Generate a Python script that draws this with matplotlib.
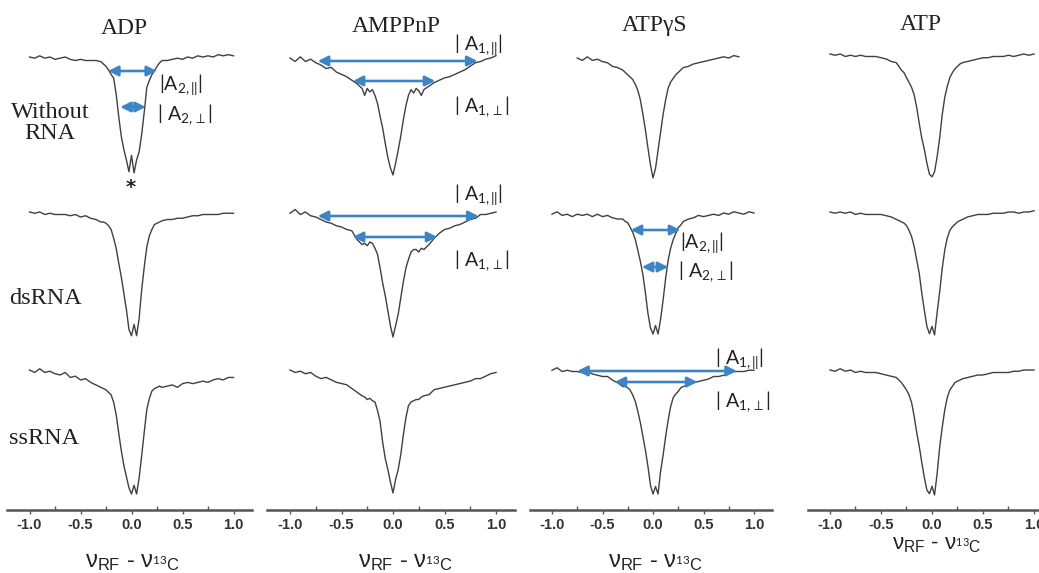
import matplotlib.pyplot as plt
import numpy as np

nan = float("nan")

# frequency offset grid (MHz), shared by all spectra
shift = [-1.0, -0.95, -0.9, -0.85, -0.8, -0.75, -0.7, -0.65, -0.6, -0.55, -0.5, -0.45, -0.4, -0.35,
         -0.3, -0.275, -0.25, -0.225, -0.2, -0.175, -0.15, -0.125, -0.1, -0.075, -0.05, -0.025, 0.0,
         0.025, 0.05, 0.075, 0.1, 0.125, 0.15, 0.175, 0.2, 0.225, 0.25, 0.275, 0.3,
         0.35, 0.4, 0.45, 0.5, 0.55, 0.6, 0.65, 0.7, 0.75, 0.8, 0.85, 0.9, 0.95, 1.0]

# relative ENDOR intensity (%)
adp_free = [100, 99, 101, 99, 100, 98, 99, 100, 98, 97, 98, 97, 97, 97,
            96, 94, 92, 89, 85, 82, 68, 49, 32, 21, 12, 2, 16, 1, 12, 19, 34, 53, 74, 80, 85, 88, 92, 95, 97,
            97, 98, 99, 98, 100, 99, 101, 100, 101, 100, 102, 101, 102, 101]
adp_ds = [100, 99, 100, 98, 99, 98, 98, 98, 97, 98, 96, 97, 95, 94,
          92, 92, 91, 89, 86, 79, 71, 59, 48, 35, 22, 6, 1, 10, 1, 15, 38, 56, 72, 81, 86, 90, 91, 92, 93,
          94, 94, 95, 95, 96, 97, 97, 98, 98, 98, 98, 99, 99, 99]
adp_ss = [100, 98, 101, 98, 99, 97, 96, 98, 94, 95, 92, 93, 90, 88,
          86, 85, 84, 82, 80, 74, 64, 49, 35, 23, 14, 5, 0, 7, 0, 13, 31, 50, 68, 77, 83, 85, 86, 87, 86,
          87, 88, 86, 89, 90, 89, 90, 91, 90, 92, 93, 92, 94, 94]

amppnp_free = [100, 97, 101, 97, 99, 96, 94, 91, 92, 88, 86, 84, 81, 78,
               74, 68, 74, 71, 73, 68, 61, 50, 40, 27, 15, 6, 0, 10, 21, 33, 47, 59, 68, 73, 70, 74, 72, 68, 73,
               76, 79, 81, 83, 84, 86, 88, 90, 93, 96, 97, 99, 100, 102]
amppnp_ds = [99, 102, 98, 100, 97, 96, 94, 92, 91, 89, 88, 86, 85, 78,
             74, 75, 73, 76, 75, 71, 66, 55, 43, 33, 21, 9, 0, 9, 18, 31, 44, 55, 62, 68, 70, 70, 68, 71, 70,
             74, 79, 83, 86, 87, 89, 90, 92, 94, 95, 98, 98, 99, 100]
amppnp_ss = [100, 98, 99, 97, 98, 95, 93, 94, 92, 90, 89, 88, 85, 82,
             79, 78, 76, 77, 75, 74, 67, 58, 41, 28, 19, 9, 0, 11, 19, 31, 47, 61, 71, 74, 75, 76, 76, 78, 79,
             80, 84, 85, 86, 87, 88, 89, 90, 91, 93, 93, 95, 97, 98]

atpgs_free = [nan, nan, nan, nan, nan, 100, 98, 101, 98, 99, 97, 96, 93, 92,
              90, 88, 86, 84, 82, 78, 73, 65, 53, 40, 25, 11, 0, 8, 23, 38, 53, 65, 75, 80, 83, 86, 88, 90, 92,
              93, 95, 96, 97, 98, 99, 100, 101, 100, 102, 101, nan, nan, nan]
atpgs_ds = [99, 101, 98, 99, 97, 99, 98, 99, 97, 99, 97, 98, 96, 95,
            95, 93, 92, 88, 84, 78, 69, 60, 49, 34, 17, 5, 0, 7, 0, 12, 28, 46, 61, 71, 78, 83, 88, 90, 93,
            95, 96, 98, 97, 98, 99, 98, 100, 99, 101, 100, 99, 101, 100]
atpgs_ss = [99, 101, 98, 99, 98, 98, 97, 98, 96, 95, 94, 94, 91, 89,
            86, 86, 85, 83, 79, 74, 66, 57, 46, 35, 22, 7, 0, 6, 0, 18, 31, 46, 59, 70, 77, 80, 82, 85, 86,
            87, 89, 90, 91, 92, 94, 94, 95, 97, 98, 98, 98, 99, 99]

atp_free = [100, 99, 100, 98, 99, 98, 99, 98, 98, 98, 97, 96, 94, 93,
            87, 85, 81, 77, 73, 67, 57, 44, 32, 23, 12, 3, 1, 5, 17, 32, 51, 65, 74, 81, 85, 88, 90, 92, 93,
            94, 95, 96, 97, 97, 98, 98, 98, 99, 98, 99, 100, 99, 100]
atp_ds = [100, 99, 100, 99, 100, 98, 99, 98, 98, 98, 98, 97, 96, 94,
          92, 91, 89, 85, 80, 72, 61, 50, 34, 20, 7, 1, 7, 0, 18, 35, 54, 69, 79, 85, 88, 90, 92, 93, 94,
          96, 97, 98, 98, 98, 99, 99, 99, 100, 100, 99, 100, 100, 101]
atp_ss = [100, 99, 101, 99, 100, 98, 99, 98, 98, 98, 97, 96, 95, 94,
          90, 87, 84, 80, 74, 63, 50, 39, 26, 14, 4, 1, 7, 0, 17, 38, 54, 68, 78, 84, 87, 90, 91, 92, 93,
          94, 95, 96, 96, 97, 98, 98, 98, 98, 99, 99, 100, 100, 100]

nucleotides = ["ADP", "AMPPnP", "ATP\u03b3S", "ATP"]
conditions = ["Without\nRNA", "dsRNA", "ssRNA"]
spectra = [[adp_free, adp_ds, adp_ss],
           [amppnp_free, amppnp_ds, amppnp_ss],
           [atpgs_free, atpgs_ds, atpgs_ss],
           [atp_free, atp_ds, atp_ss]]
ticks = [-1.0, -0.5, 0.0, 0.5, 1.0]

# hyperfine splittings marked with arrows: (column, row, label, x_left, x_right)
couplings = [(0, 0, "par2", -0.23, 0.25), (0, 0, "perp2", -0.11, 0.14),
             (1, 0, "par1", -0.73, 0.82), (1, 0, "perp1", -0.39, 0.41),
             (1, 1, "par1", -0.73, 0.83), (1, 1, "perp1", -0.39, 0.43),
             (2, 1, "par2", -0.22, 0.27), (2, 1, "perp2", -0.11, 0.15),
             (2, 2, "par1", -0.75, 0.83), (2, 2, "perp1", -0.38, 0.44)]

# ---- layout (pixels of the 1039x573 picture) ----
W, H = 1039, 573
axis_y = 510
zero_px = [131.5, 393, 653, 932]
px_per_unit = [102, 103, 101, 102]
xlo, xhi = -1.22, 1.18
trace_top = [[57, 212, 370], [58, 212, 370], [58, 213, 369], [54, 212, 370]]
trace_bot = [[174, 337, 494], [175, 337, 493], [178, 334, 494], [178, 335, 495]]
arrow_y = {(0, 0, "par2"): 71, (0, 0, "perp2"): 107,
           (1, 0, "par1"): 61, (1, 0, "perp1"): 81,
           (1, 1, "par1"): 216, (1, 1, "perp1"): 237,
           (2, 1, "par2"): 230, (2, 1, "perp2"): 267,
           (2, 2, "par1"): 371, (2, 2, "perp1"): 382}
label_pos = {(0, 0, "par2"): (159, 85), (0, 0, "perp2"): (157, 115),
             (1, 0, "par1"): (454, 45), (1, 0, "perp1"): (454, 107),
             (1, 1, "par1"): (454, 195), (1, 1, "perp1"): (454, 261),
             (2, 1, "par2"): (680, 243), (2, 1, "perp2"): (678, 272),
             (2, 2, "par1"): (715, 359), (2, 2, "perp1"): (715, 402)}
label_text = {"par2": r"$|\mathrm{A}_{2,||}|$", "perp2": r"$|\ \mathrm{A}_{2,\bot}|$",
              "par1": r"$|\ \mathrm{A}_{1,||}|$", "perp1": r"$|\ \mathrm{A}_{1,\bot}|$"}
title_pos = [(124, 28), (396, 26), (655, 26), (921, 25)]
row_pos = [(50, 123), (46, 298), (44, 438)]
xlabel_pos = [(132, 567), (405, 567), (655, 567), (937, 550)]
xlabel_size = [17, 17, 17, 16]

plt.rcParams["mathtext.fontset"] = "custom"
plt.rcParams["mathtext.rm"] = "Lato"
plt.rcParams["mathtext.it"] = "Lato:italic"
plt.rcParams["mathtext.bf"] = "Lato:bold"
plt.rcParams["mathtext.sf"] = "Liberation Sans"
plt.rcParams["mathtext.fallback"] = "stixsans"

blue = "#3d84c6"
ink = "#404040"


def fx(px):
    return px / W


def fy(py):
    return 1 - py / H


fig = plt.figure(figsize=(W / 100, H / 100), dpi=100)

for c in range(4):
    s = px_per_unit[c]
    left = zero_px[c] + xlo * s
    ax = fig.add_axes([fx(left), fy(axis_y), (xhi - xlo) * s / W, axis_y / H])
    ax.patch.set_visible(False)
    ax.set_xlim(xlo, xhi)
    ax.set_ylim(0, axis_y)
    for r in range(3):
        top, bot = trace_top[c][r], trace_bot[c][r]
        v = np.array(spectra[c][r], dtype=float)
        y = axis_y - (bot - v / 100 * (bot - top))
        ax.plot(shift, y, color=ink, lw=1.0)

    for (cc, rr, kind, x0, x1) in couplings:
        if cc != c:
            continue
        yy = axis_y - arrow_y[(cc, rr, kind)]
        ax.annotate("", xy=(x1, yy), xytext=(x0, yy),
                    arrowprops=dict(arrowstyle="<|-|>,head_length=0.6,head_width=0.3",
                                    color=blue, lw=1.9, shrinkA=0, shrinkB=0))

    for sp in ["left", "top", "right"]:
        ax.spines[sp].set_visible(False)
    ax.spines["bottom"].set_linewidth(1.8)
    ax.spines["bottom"].set_color("#555555")
    ax.set_yticks([])
    ax.set_xticks(ticks)
    ax.set_xticklabels(["%.1f" % t for t in ticks], fontweight="bold",
                       fontfamily="Liberation Sans", fontsize=10.5, color="#333333")
    ax.set_xticks([-0.75, -0.25, 0.25, 0.75], minor=True)
    ax.tick_params(axis="x", which="major", direction="out", length=3, width=1,
                   color="#555555", pad=3)
    ax.tick_params(axis="x", which="minor", direction="in", length=3, width=1,
                   color="#555555")

    tx, ty = title_pos[c]
    fig.text(fx(tx), fy(ty), nucleotides[c], ha="center", va="center",
             fontfamily="Liberation Serif", fontsize=17, color="#222222")
    lx, ly = xlabel_pos[c]
    fig.text(fx(lx), fy(ly), r"$\mathsf{ν}_{\mathsf{RF}}$ - $\mathsf{ν}_{{}^{13}\mathsf{C}}$",
             ha="center", va="baseline", fontfamily="Liberation Sans",
             fontsize=xlabel_size[c], color="#222222")

for key, (px, py) in label_pos.items():
    fig.text(fx(px), fy(py), label_text[key[2]], ha="left", va="center",
             fontsize=14, color="#222222")

for r in range(3):
    px, py = row_pos[r]
    fig.text(fx(px), fy(py), conditions[r], ha="center", va="center",
             multialignment="center", fontfamily="Liberation Serif",
             fontsize=17.5, color="#222222", linespacing=1.05)

fig.text(fx(131), fy(187), "*", ha="center", va="center", fontsize=14,
         fontweight="bold", color="#222222")

fig.savefig("out.png", dpi=100)
